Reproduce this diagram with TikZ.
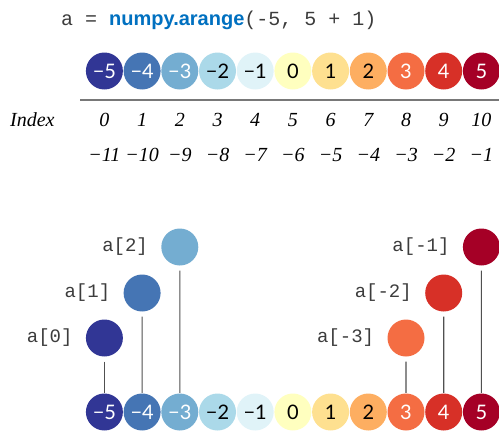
\documentclass[tikz,border=0pt]{standalone}
\usepackage{fontspec}
\setmainfont{Liberation Serif}
\newfontfamily\codefont{Liberation Mono}
\newfontfamily\funcfont{Liberation Sans}
\newfontfamily\numfont{Lato}
\usetikzlibrary{positioning}
\definecolor{c0}{RGB}{49,54,149}
\definecolor{c1}{RGB}{69,117,180}
\definecolor{c2}{RGB}{116,173,209}
\definecolor{c3}{RGB}{171,217,233}
\definecolor{c4}{RGB}{224,243,248}
\definecolor{c5}{RGB}{255,255,191}
\definecolor{c6}{RGB}{254,224,144}
\definecolor{c7}{RGB}{253,174,97}
\definecolor{c8}{RGB}{244,109,67}
\definecolor{c9}{RGB}{215,48,39}
\definecolor{c10}{RGB}{165,0,38}
\definecolor{funcblue}{RGB}{0,112,192}
\definecolor{codegray}{RGB}{60,60,60}
\definecolor{rulegray}{RGB}{120,120,120}
\definecolor{stemgray}{RGB}{80,80,80}

\begin{document}
\begin{tikzpicture}[x=1pt, y=-1pt,
    ball/.style={circle, minimum size=37pt, inner sep=0pt, font=\numfont\fontsize{20}{20}\selectfont},
    stem/.style={draw=stemgray, line width=1.1pt, shorten <=5pt, shorten >=0.5pt},
    lbl/.style={font=\codefont\fontsize{19}{19}\selectfont, text=codegray, inner sep=0pt},
    idx/.style={font=\itshape\fontsize{20}{20}\selectfont, inner sep=0pt}]
    \useasboundingbox (0,0) rectangle (499,432);

    % the call
    \node[anchor=west, inner sep=0pt, text=codegray, font=\codefont\fontsize{20}{20}\selectfont] (code) at (61,20)
        {a = {\funcfont\bfseries\color{funcblue}numpy.arange}(-5, 5 + 1)};

    % array, indices and the two rows of circles
    \foreach \v/\t [count=\i from 0] in {−5/white, −4/white, −3/white, −2/black, −1/black, 0/black, 1/black, 2/black, 3/white, 4/white, 5/white} {
        \pgfmathsetmacro\xx{104.4+37.7*\i}
        \pgfmathtruncatemacro\nn{11-\i}
        \node[ball, fill=c\i, text=\t] (t\i) at (\xx,71) {\v};
        \node[idx] (i\i) at (\xx,120) {\i};
        \node[idx] (n\i) at (\xx,155) {−\nn};
        \node[ball, fill=c\i, text=\t] (b\i) at (\xx,412) {\v};
    }
    \node[idx, anchor=west] (index) at (10,120) {Index};
    \coordinate (rulel) at (80,100);
    \coordinate (ruler) at (499,100);
    \draw[draw=rulegray, line width=2pt] (rulel) -- (ruler);

    % picked out
    \node[ball, fill=c0] (r0) at (104.4,338) {};
    \node[ball, fill=c1] (r1) at (142.1,293) {};
    \node[ball, fill=c2] (r2) at (179.8,247) {};
    \node[ball, fill=c8] (r8) at (406,338) {};
    \node[ball, fill=c9] (r9) at (443.7,293) {};
    \node[ball, fill=c10] (r10) at (481.4,247) {};

    \node[lbl, left=13pt of r0] (l0) {a[0]};
    \node[lbl, left=13pt of r1] (l1) {a[1]};
    \node[lbl, left=13pt of r2] (l2) {a[2]};
    \node[lbl, left=13pt of r8] (l8) {a[-3]};
    \node[lbl, left=13pt of r9] (l9) {a[-2]};
    \node[lbl, left=13pt of r10] (l10) {a[-1]};

    \draw[stem] (r0) -- (b0);
    \draw[stem] (r1) -- (b1);
    \draw[stem] (r2) -- (b2);
    \draw[stem] (r8) -- (b8);
    \draw[stem] (r9) -- (b9);
    \draw[stem] (r10) -- (b10);
\end{tikzpicture}
\end{document}
